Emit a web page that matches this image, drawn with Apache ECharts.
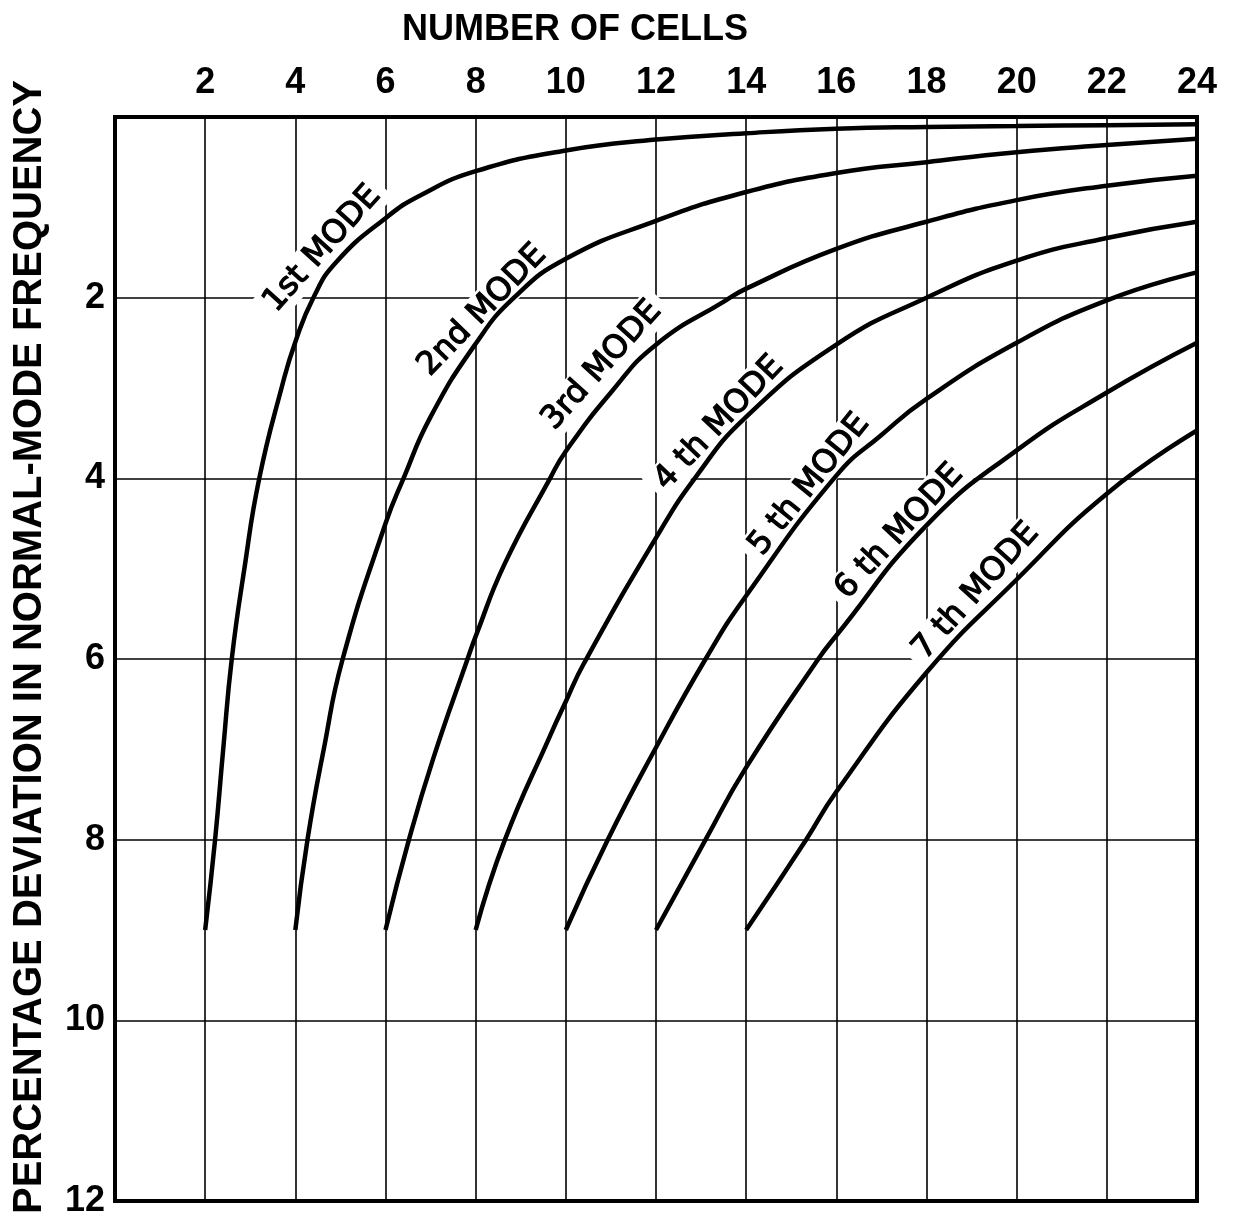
<!DOCTYPE html>
<html>
<head>
<meta charset="utf-8">
<script src="https://cdn.jsdelivr.net/npm/echarts@6/dist/echarts.min.js"></script>
<style>
html, body { margin: 0; padding: 0; background: #fff; }
#chart { width: 1240px; height: 1219px; }
</style>
</head>
<body>
<div id="chart"></div>
<script>
// tick values
const cellTicks = [2, 4, 6, 8, 10, 12, 14, 16, 18, 20, 22, 24];
const devTicks = [2, 4, 6, 8, 10, 12];

// [number of cells, % deviation]
const mode1 = [[2, 9], [2.22, 8], [2.4, 7], [2.59, 6], [2.87, 5], [3.2, 4], [3.71, 2.97], [4, 2.49], [4.4, 2], [4.9, 1.61], [6, 1.12], [6.8, 0.86], [8, 0.6], [10, 0.37], [12, 0.25], [14, 0.18], [16, 0.13], [18, 0.11], [20, 0.1], [22, 0.09], [24, 0.08]];
const mode2 = [[4, 9], [4.27, 8], [4.63, 7], [5.05, 6], [6, 4.5], [6.4, 4], [7, 3.32], [8, 2.51], [8.85, 2], [10, 1.57], [12, 1.15], [14, 0.83], [16, 0.62], [18, 0.5], [20, 0.39], [22, 0.31], [24, 0.24]];
const mode3 = [[6, 9], [6.52, 8], [7.06, 7.1], [7.82, 6], [8, 5.75], [8.64, 4.95], [9.65, 4], [10, 3.7], [11, 3.05], [12, 2.52], [13.55, 2.03], [14, 1.9], [16, 1.46], [18, 1.16], [20, 0.92], [22, 0.76], [24, 0.65]];
const mode4 = [[8, 9], [8.65, 8], [9.65, 6.85], [10, 6.47], [10.4, 6.05], [12, 4.66], [12.86, 4], [14, 3.32], [16, 2.52], [18, 2], [20, 1.59], [22, 1.34], [24, 1.16]];
const mode5 = [[10, 9], [10.93, 8], [12, 6.98], [13.1, 6], [14, 5.3], [16, 3.97], [17, 3.52], [18, 3.12], [20, 2.5], [22, 2.03], [24, 1.72]];
const mode6 = [[12, 9], [13.1, 8], [14, 7.2], [15.6, 6], [16, 5.74], [18, 4.52], [20, 3.69], [22, 3.05], [24, 2.5]];
const mode7 = [[14, 9], [15.33, 8], [16, 7.47], [18, 6.15], [20, 5.12], [22, 4.17], [24, 3.47]];

const modeNames = ['1st MODE', '2nd MODE', '3rd MODE', '4 th MODE', '5 th MODE', '6 th MODE', '7 th MODE'];

// where each curve label sits (cells, deviation, angle in degrees)
const labelSpots = [[4.6, 1.46, 48], [8.15, 2.14, 46], [10.8, 2.75, 48], [13.4, 3.39, 46.5], [15.4, 4.07, 51], [17.4, 4.59, 47], [19.1, 5.25, 48]];

const chart = echarts.init(document.getElementById('chart'));

const tickFont = {
    color: '#000',
    fontFamily: 'Liberation Sans',
    fontWeight: 'bold',
    fontSize: 36
};

const series = [mode1, mode2, mode3, mode4, mode5, mode6, mode7].map((pts, i) => ({
    name: modeNames[i],
    type: 'line',
    data: pts,
    symbol: 'none',
    smooth: 0.5,
    lineStyle: { color: '#000', width: 4.5 },
    z: 3
}));

chart.setOption({
    animation: false,
    backgroundColor: '#fff',
    grid: {
        left: 115, right: 43, top: 117, bottom: 17,
        show: true, borderColor: '#000', borderWidth: 4
    },
    xAxis: {
        type: 'value',
        position: 'top',
        min: 0, max: 24, interval: 2,
        axisLine: { show: false },
        axisTick: { show: false },
        axisLabel: Object.assign({
            margin: 16,
            formatter: v => cellTicks.includes(v) ? String(v) : ''
        }, tickFont),
        splitLine: { show: true, lineStyle: { color: '#000', width: 1.6 } }
    },
    yAxis: {
        type: 'value',
        inverse: true,
        min: 0, max: 12, interval: 2,
        axisLine: { show: false },
        axisTick: { show: false },
        axisLabel: Object.assign({
            margin: 10,
            formatter: v => devTicks.includes(v) ? String(v) : ''
        }, tickFont),
        splitLine: { show: true, lineStyle: { color: '#000', width: 1.6 } }
    },
    series: series
});

// axis titles and curve labels
const graphics = [
    {
        type: 'text', x: 575, y: 30, z: 1,
        style: { text: 'NUMBER OF CELLS', align: 'center', verticalAlign: 'middle', fill: '#000',
            fontFamily: 'Liberation Sans', fontWeight: 'bold', fontSize: 36 }
    },
    {
        type: 'text', x: 30, y: 647, z: 1, rotation: Math.PI / 2,
        style: { text: 'PERCENTAGE DEVIATION IN NORMAL-MODE FREQUENCY', align: 'center', verticalAlign: 'middle', fill: '#000',
            fontFamily: 'Liberation Sans', fontWeight: 'bold', fontSize: 40 }
    }
];
labelSpots.forEach((s, i) => {
    const p = chart.convertToPixel({ gridIndex: 0 }, [s[0], s[1]]);
    graphics.push({
        type: 'text', x: p[0], y: p[1], z: 1,
        rotation: s[2] * Math.PI / 180,
        style: {
            text: modeNames[i], align: 'center', verticalAlign: 'middle', fill: '#000',
            fontFamily: 'DejaVu Sans', fontSize: 32,
            stroke: '#000', lineWidth: 1.2,
            backgroundColor: '#fff', padding: [2, 8]
        }
    });
});
chart.setOption({ graphic: graphics });

window.addEventListener('resize', function () {
    chart.resize();
});
</script>
</body>
</html>
